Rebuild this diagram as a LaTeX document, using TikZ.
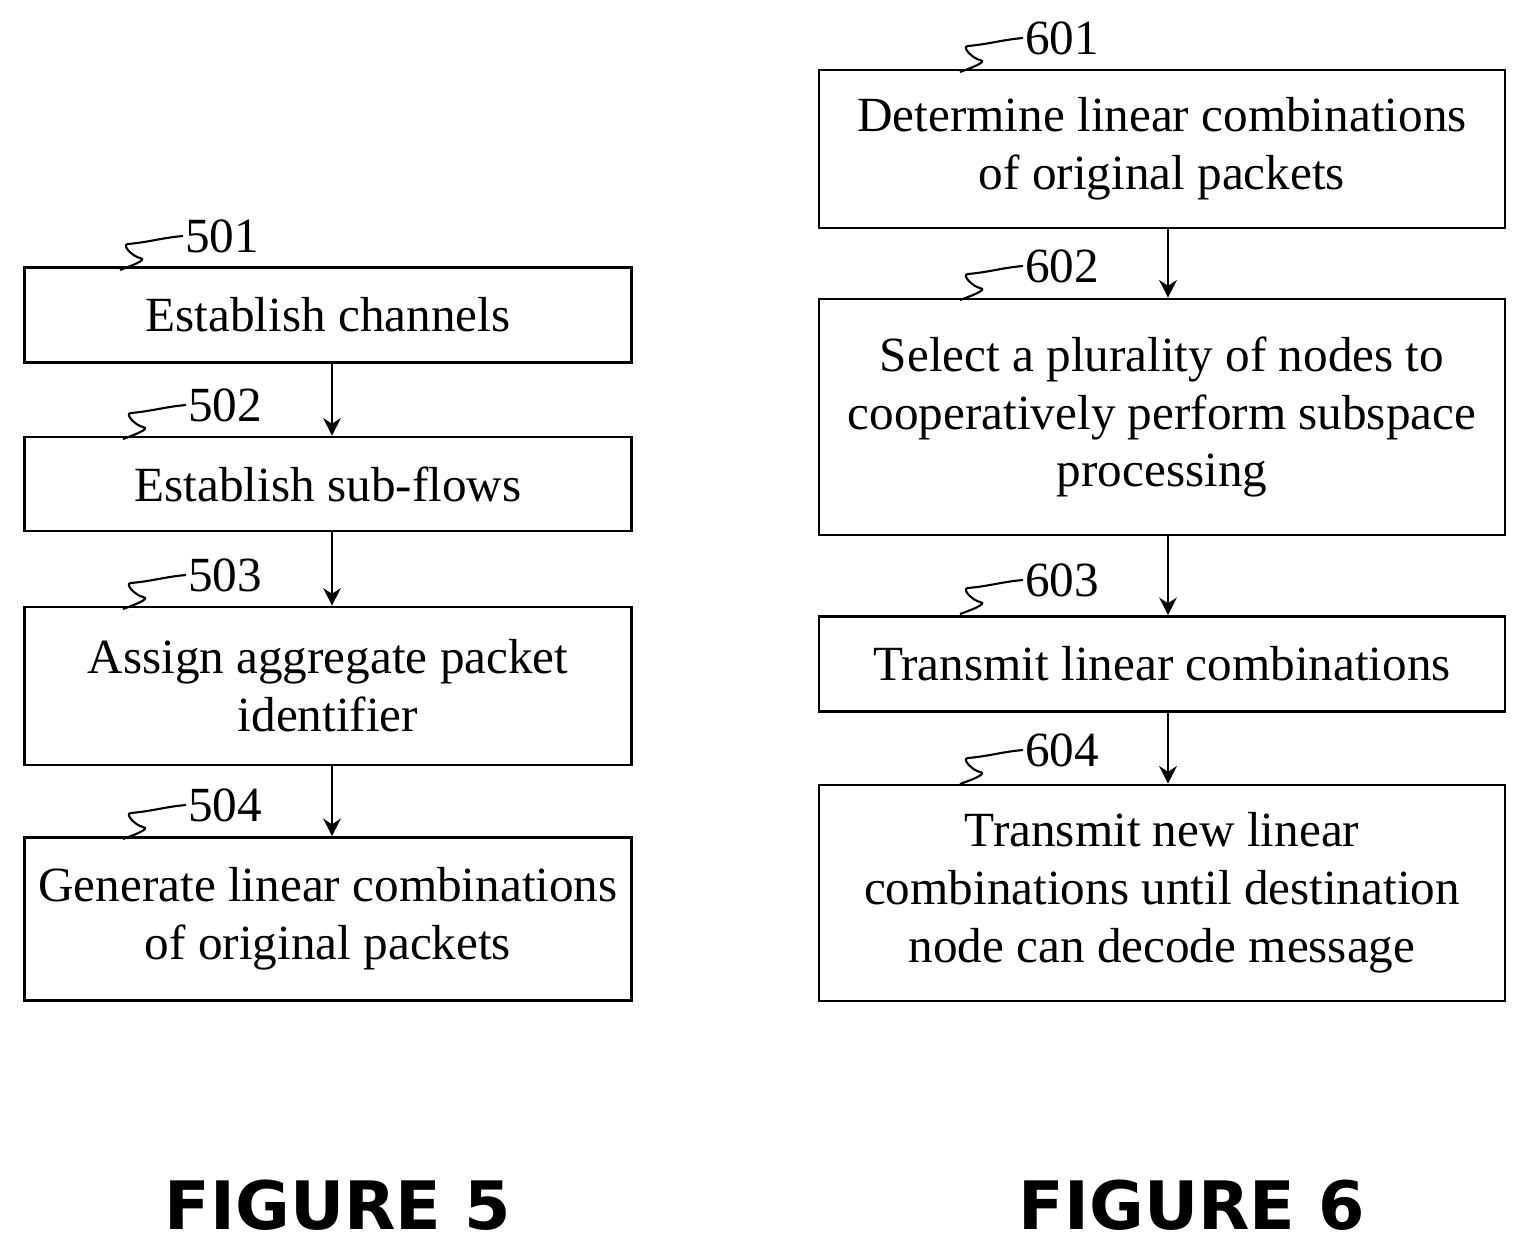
\documentclass[tikz,border=0pt]{standalone}
\usepackage{fontspec}
\setmainfont{Liberation Serif}
\newfontfamily\figfont{DejaVu Sans}
\usepackage{tikz}
\usetikzlibrary{arrows.meta}

\begin{document}
\begin{tikzpicture}[x=0.02cm,y=-0.02cm]
\tikzset{
  stepbox/.style={draw, line width=1.5pt, align=center, inner sep=0pt,
    font=\fontsize{28}{33}\selectfont},
  ref/.style={font=\fontsize{28}{33}\selectfont, inner sep=1pt},
  flow/.style={line width=1.5pt, -{Stealth[length=10pt,width=10pt]}},
  squig/.style={line width=1.2pt},
  figlabel/.style={font=\figfont\bfseries\fontsize{38}{44}\selectfont}
}
\useasboundingbox (0,0) rectangle (1527,1256);
% figure 5
\node[stepbox, minimum width=607*0.02cm, minimum height=95*0.02cm] (s501) at (328,315) {Establish channels};
\node[stepbox, minimum width=607*0.02cm, minimum height=94*0.02cm] (s502) at (328,484) {Establish sub-flows};
\node[stepbox, minimum width=607*0.02cm, minimum height=158*0.02cm] (s503) at (328,686) {Assign aggregate packet\\identifier};
\node[stepbox, minimum width=607*0.02cm, minimum height=163*0.02cm] (s504) at (328,919) {Generate linear combinations\\of original packets};
\draw[flow] (s501.south -| 332,0) -- (s502.north -| 332,0);
\draw[flow] (s502.south -| 332,0) -- (s503.north -| 332,0);
\draw[flow] (s503.south -| 332,0) -- (s504.north -| 332,0);
\node[ref] (l501) at (222,236) {501};
\node[ref] (l502) at (225,405) {502};
\node[ref] (l503) at (225,575) {503};
\node[ref] (l504) at (225,805) {504};
% figure 6
\node[stepbox, minimum width=686*0.02cm, minimum height=158*0.02cm] (s601) at (1162,149) {Determine linear combinations\\of original packets};
\node[stepbox, minimum width=686*0.02cm, minimum height=236*0.02cm] (s602) at (1162,417) {Select a plurality of nodes to\\cooperatively perform subspace\\processing};
\node[stepbox, minimum width=686*0.02cm, minimum height=95*0.02cm] (s603) at (1162,664) {Transmit linear combinations};
\node[stepbox, minimum width=686*0.02cm, minimum height=216*0.02cm] (s604) at (1162,893) {Transmit new linear\\combinations until destination\\node can decode message};
\draw[flow] (s601.south -| 1168,0) -- (s602.north -| 1168,0);
\draw[flow] (s602.south -| 1168,0) -- (s603.north -| 1168,0);
\draw[flow] (s603.south -| 1168,0) -- (s604.north -| 1168,0);
\node[ref] (l601) at (1062,38) {601};
\node[ref] (l602) at (1062,266) {602};
\node[ref] (l603) at (1062,580) {603};
\node[ref] (l604) at (1062,750) {604};
% squiggles
\foreach \n in {501,502,503,504,601,602,603,604}
  \draw[squig] (l\n.west) to[out=185,in=5] ++(-55,8)
    to[out=185,in=170] ++(12,14) to[out=-10,in=20] ++(-20,12);
% figure captions
\node[figlabel] (f5) at (338,1205) {FIGURE 5};
\node[figlabel] (f6) at (1192,1205) {FIGURE 6};
\end{tikzpicture}
\end{document}
